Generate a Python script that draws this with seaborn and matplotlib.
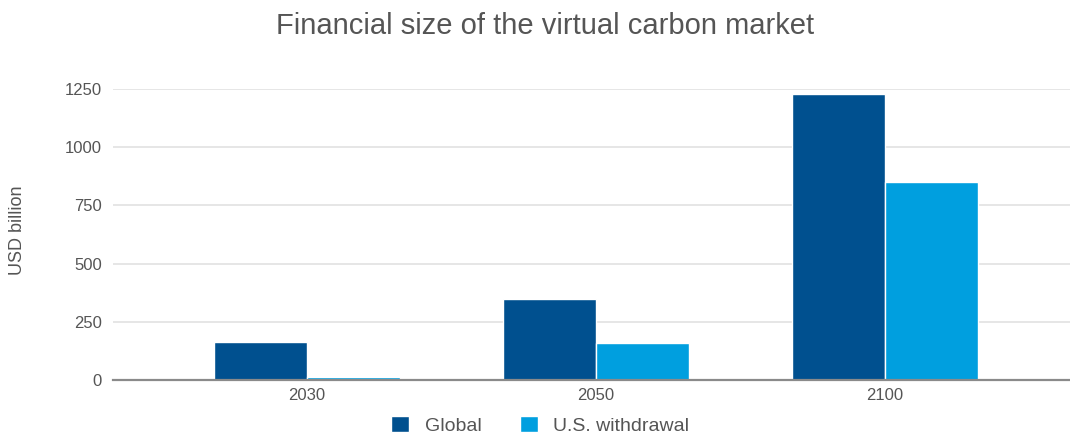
import matplotlib
matplotlib.use("Agg")
import matplotlib.pyplot as plt
import seaborn as sns
import pandas as pd

years = ["2030", "2050", "2100"]
global_vals = [165, 348, 1230]
us_withdrawal_vals = [14, 160, 852]
series_names = ["Global", "U.S. withdrawal"]
y_ticks = [0, 250, 500, 750, 1000, 1250]

df = pd.DataFrame({
    "year": years * 2,
    "value": global_vals + us_withdrawal_vals,
    "series": [series_names[0]] * 3 + [series_names[1]] * 3,
})

sns.set_theme(style="white")
plt.rcParams["font.family"] = ["Liberation Sans", "DejaVu Sans"]

fig = plt.figure(figsize=(10.7, 4.38), dpi=100)
ax = fig.add_axes([113 / 1070, 1 - 380 / 438, 1 - 113 / 1070, (380 - 89) / 438])

sns.barplot(data=df, x="year", y="value", hue="series", ax=ax,
            palette=["#00508F", "#009FDF"], width=0.645,
            edgecolor="white", linewidth=1, saturation=1)

ax.set_xlim(-0.672, 2.64)
ax.set_ylim(0, 1250)
ax.set_yticks(y_ticks)
ax.set_yticklabels([str(t) for t in y_ticks])
ax.yaxis.grid(True, color="#e2e2e2", linewidth=1.2)
ax.set_axisbelow(True)
for s in ["top", "right", "left"]:
    ax.spines[s].set_visible(False)
ax.spines["bottom"].set_color("#8a8a8a")
ax.spines["bottom"].set_linewidth(1.6)
ax.spines["bottom"].set_zorder(5)
ax.tick_params(axis="y", length=0, pad=8, labelsize=12, labelcolor="#555555")
ax.tick_params(axis="x", length=0, pad=6, labelsize=12, labelcolor="#555555")
ax.set_xlabel("")
ax.set_ylabel("USD billion", fontsize=13, color="#555555")
ax.yaxis.set_label_coords(18 / 1070, 1 - 230 / 438, transform=fig.transFigure)
ax.yaxis.label.set_verticalalignment("center")

fig.suptitle("Financial size of the virtual carbon market", x=0.509, y=0.972,
             fontsize=21, color="#555555")

ax.legend(loc="center", ncol=2, frameon=False, fontsize=14,
          handlelength=0.9, handleheight=0.9, columnspacing=2.0, handletextpad=0.8,
          labelcolor="#555555")
leg = ax.get_legend()
leg.set_bbox_to_anchor((0.505, 0.028), transform=fig.transFigure)

fig.savefig("out.png", dpi=100)
